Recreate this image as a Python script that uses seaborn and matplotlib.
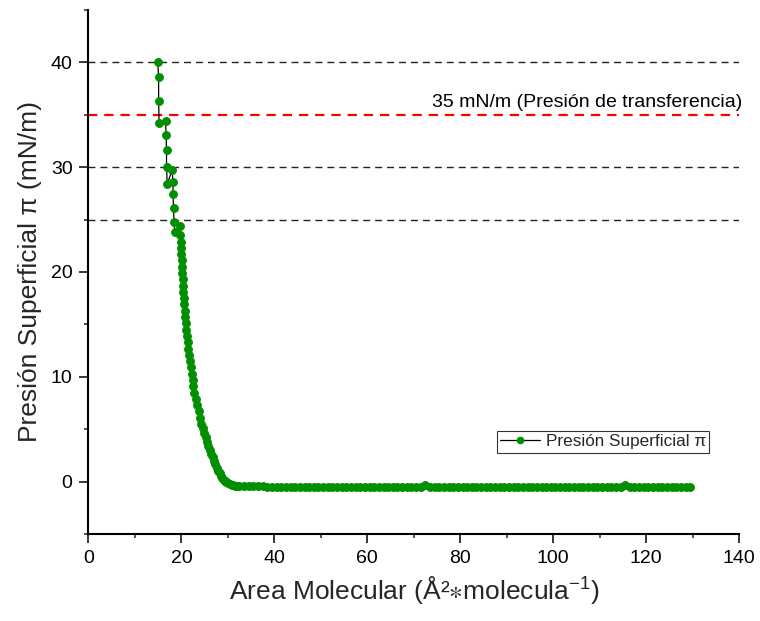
import numpy as np
import pandas as pd
import matplotlib
matplotlib.use('Agg')
import matplotlib.pyplot as plt
import seaborn as sns
from matplotlib.ticker import MultipleLocator

# datos leídos de la isoterma (área molecular vs presión superficial)
# zona plana, de mayor a menor área
area_plana = [129.5, 128.5, 127.5, 126.5, 125.5, 124.5, 123.5, 122.5, 121.5, 120.5,
              119.5, 118.5, 117.5, 116.5, 115.5, 114.5, 113.5, 112.5, 111.5, 110.5,
              109.5, 108.5, 107.5, 106.5, 105.5, 104.5, 103.5, 102.5, 101.5, 100.5,
              99.5, 98.5, 97.5, 96.5, 95.5, 94.5, 93.5, 92.5, 91.5, 90.5,
              89.5, 88.5, 87.5, 86.5, 85.5, 84.5, 83.5, 82.5, 81.5, 80.5,
              79.5, 78.5, 77.5, 76.5, 75.5, 74.5, 73.5, 72.5, 71.5, 70.5,
              69.5, 68.5, 67.5, 66.5, 65.5, 64.5, 63.5, 62.5, 61.5, 60.5,
              59.5, 58.5, 57.5, 56.5, 55.5, 54.5, 53.5, 52.5, 51.5, 50.5,
              49.5, 48.5, 47.5, 46.5, 45.5, 44.5, 43.5, 42.5, 41.5, 40.5,
              39.5, 38.5, 37.5, 36.5, 35.5, 34.5, 33.5, 32.5]
pres_plana = [-0.55, -0.56, -0.55, -0.55, -0.56, -0.55, -0.55, -0.56, -0.55, -0.55,
              -0.56, -0.55, -0.55, -0.56, -0.30, -0.55, -0.56, -0.55, -0.55, -0.56,
              -0.55, -0.56, -0.55, -0.55, -0.54, -0.55, -0.56, -0.55, -0.55, -0.56,
              -0.55, -0.55, -0.56, -0.55, -0.55, -0.54, -0.55, -0.56, -0.55, -0.55,
              -0.56, -0.55, -0.55, -0.54, -0.55, -0.56, -0.55, -0.55, -0.56, -0.55,
              -0.55, -0.56, -0.55, -0.55, -0.56, -0.55, -0.55, -0.32, -0.55, -0.56,
              -0.55, -0.55, -0.56, -0.55, -0.54, -0.55, -0.55, -0.56, -0.55, -0.55,
              -0.55, -0.54, -0.55, -0.54, -0.54, -0.53, -0.53, -0.53, -0.52, -0.52,
              -0.52, -0.51, -0.51, -0.50, -0.50, -0.50, -0.49, -0.49, -0.48, -0.48,
              -0.47, -0.47, -0.46, -0.46, -0.45, -0.44, -0.43, -0.42]

# codo y subida de la compresión
area_subida = [32.0, 31.6, 31.2, 30.8, 30.4, 30.0, 29.7, 29.4, 29.1, 28.8,
               28.5, 28.2, 27.9, 27.6, 27.3, 27.0, 26.7, 26.4, 26.1, 25.8,
               25.5, 25.2, 24.9, 24.6, 24.3, 24.0, 23.7, 23.4, 23.1, 22.8,
               22.6, 22.4, 22.2, 22.0, 21.8, 21.65, 21.5, 21.35, 21.2, 21.05,
               20.9, 20.8, 20.7, 20.6, 20.5, 20.42, 20.35, 20.28, 20.2, 20.12,
               20.05, 20.0, 19.92, 19.85, 19.8, 19.6]
pres_subida = [-0.42, -0.39, -0.35, -0.30, -0.23, -0.15, -0.06, 0.06, 0.20, 0.36,
               0.54, 0.78, 1.05, 1.34, 1.65, 1.97, 2.30, 2.65, 3.00, 3.40,
               3.80, 4.22, 4.64, 5.07, 5.50, 6.10, 6.70, 7.30, 7.90, 8.50,
               9.10, 9.70, 10.30, 10.90, 11.50, 12.10, 12.70, 13.30, 13.90, 14.50,
               15.10, 15.70, 16.30, 16.90, 17.50, 18.10, 18.70, 19.30, 19.90, 20.50,
               21.10, 21.70, 22.30, 22.90, 23.50, 24.40]

# zona de colapso (dientes de sierra)
area_colapso = [18.6, 18.4, 18.3, 18.2, 18.2, 18.0, 16.95, 16.8, 16.8, 16.7,
                16.6, 15.2, 15.1, 15.1, 14.9]
pres_colapso = [23.8, 24.8, 26.1, 27.4, 28.6, 29.7, 28.4, 30.0, 31.6, 33.1,
                34.4, 34.2, 36.3, 38.6, 40.07]

lineas_ref = [40, 30, 25]
presion_transferencia = 35

df = pd.DataFrame({
    'area': area_plana + area_subida + area_colapso,
    'presion': pres_plana + pres_subida + pres_colapso,
})

sns.set_style('ticks')
plt.rcParams['font.family'] = ['Liberation Sans', 'DejaVu Sans']
plt.rcParams['mathtext.fontset'] = 'custom'
plt.rcParams['mathtext.rm'] = 'Liberation Sans'
plt.rcParams['mathtext.it'] = 'Liberation Sans'
plt.rcParams['mathtext.default'] = 'regular'
plt.rcParams['mathtext.fallback'] = 'stixsans'

verde = '#008F00'

fig = plt.figure(figsize=(7.6, 6.21), dpi=100)
ax = fig.add_axes([0.1164, 0.1401, 0.856, 0.8438])

# líneas horizontales de referencia
for y in lineas_ref:
    ax.axhline(y, color='#222222', linestyle=(0, (5, 3.6)), linewidth=1.0, zorder=1)
ax.axhline(presion_transferencia, color='red', linestyle=(0, (4.2, 3.1)), linewidth=1.6, zorder=1)
ax.text(140.6, 35.7, '35 mN/m (Presión de transferencia)',
        ha='right', va='baseline', fontsize=14, color='black')

sns.lineplot(data=df, x='area', y='presion', sort=False, estimator=None,
             color='black', linewidth=0.9, marker='o', markersize=5.6,
             markerfacecolor=verde, markeredgecolor=verde,
             label='Presión Superficial π', ax=ax, zorder=3)

ax.set_xlim(0, 140)
ax.set_ylim(-5, 45)
ax.xaxis.set_major_locator(MultipleLocator(20))
ax.xaxis.set_minor_locator(MultipleLocator(10))
ax.yaxis.set_minor_locator(MultipleLocator(5))
ax.set_yticks([0, 10, 20, 30, 40])
ax.tick_params(which='major', direction='out', length=6.5, width=1.1, pad=5,
               labelsize=14, colors='black')
ax.tick_params(which='minor', direction='out', length=3.2, width=1.1)

for s in ['top', 'right']:
    ax.spines[s].set_visible(False)
for s in ['left', 'bottom']:
    ax.spines[s].set_linewidth(1.5)
    ax.spines[s].set_color('black')

ax.set_xlabel('Area Molecular (Å²$\\ast$molecula$^{-1}$)', fontsize=19, labelpad=5)
ax.set_ylabel('Presión Superficial π (mN/m)', fontsize=19, labelpad=6)

leg = ax.legend(loc='upper left', bbox_to_anchor=(497 / 760, 1 - 431 / 621),
                bbox_transform=fig.transFigure, borderaxespad=0, fontsize=12.3,
                frameon=True, fancybox=False, handlelength=2.3, borderpad=0.2,
                handletextpad=0.35, markerscale=0.85)
leg.get_frame().set_edgecolor('black')
leg.get_frame().set_linewidth(0.8)

fig.savefig('out.png', dpi=100)
